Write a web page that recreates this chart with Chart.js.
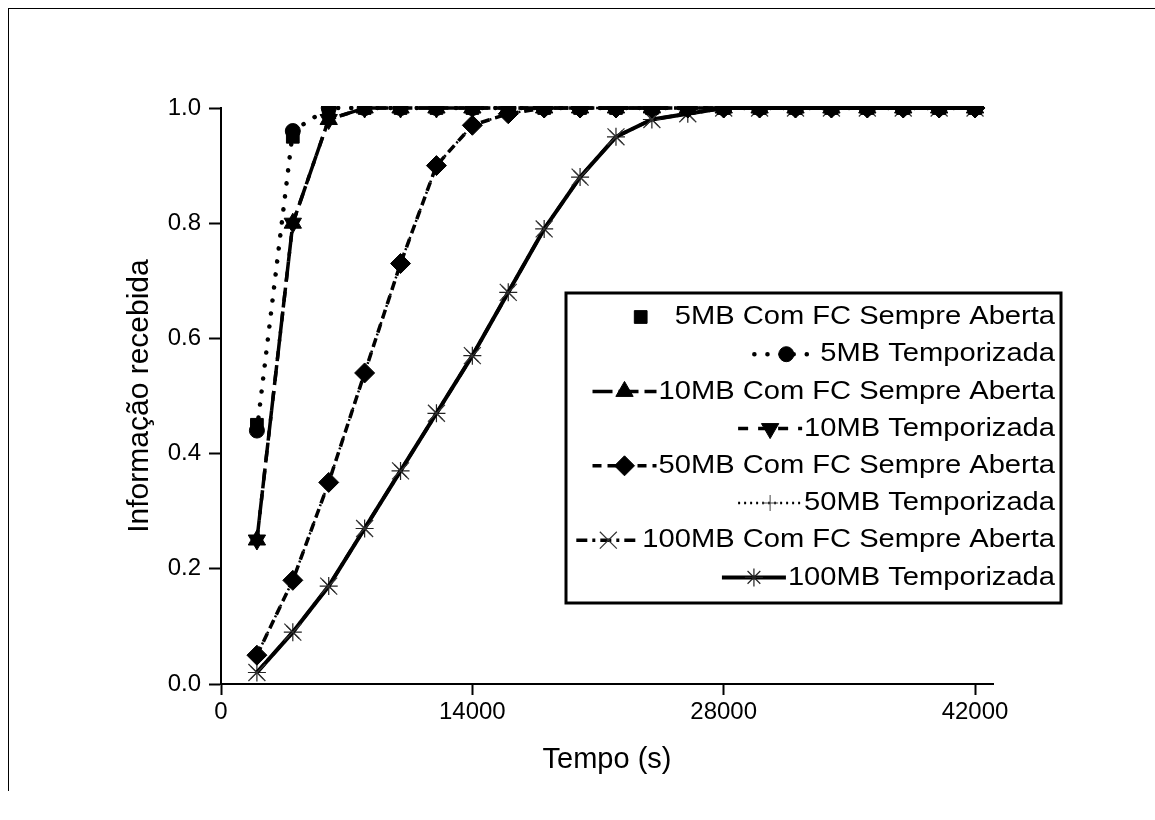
<!DOCTYPE html>
<html>
<head>
<meta charset="utf-8">
<script src="https://cdn.jsdelivr.net/npm/chart.js"></script>
<style>
  body { margin: 0; background: #fff; }
  #wrap { position: relative; width: 1155px; height: 820px; }
  #frame { position: absolute; left: 8px; top: 8px; width: 1147px; height: 782px;
           border-left: 1px solid #000; border-top: 1px solid #000; pointer-events: none; }
</style>
</head>
<body>
<div id="wrap">
  <canvas id="chart" width="1155" height="820"></canvas>
  <div id="frame"></div>
</div>
<script>
// time axis (s)
const times = [2000, 4000, 6000, 8000, 10000, 12000, 14000, 16000, 18000, 20000, 22000,
  24000, 26000, 28000, 30000, 32000, 34000, 36000, 38000, 40000, 42000];
const xTicks = [0, 14000, 28000, 42000];

// fraction of information received
const mb5Aberta = [0.45, 0.95, 1, 1, 1, 1, 1, 1, 1, 1, 1, 1, 1, 1, 1, 1, 1, 1, 1, 1, 1];
const mb5Temp = [0.44, 0.96, 1, 1, 1, 1, 1, 1, 1, 1, 1, 1, 1, 1, 1, 1, 1, 1, 1, 1, 1];
const mb10Aberta = [0.25, 0.80, 0.98, 1, 1, 1, 1, 1, 1, 1, 1, 1, 1, 1, 1, 1, 1, 1, 1, 1, 1];
const mb10Temp = [0.25, 0.80, 0.98, 1, 1, 1, 1, 1, 1, 1, 1, 1, 1, 1, 1, 1, 1, 1, 1, 1, 1];
const mb50Aberta = [0.05, 0.18, 0.35, 0.54, 0.73, 0.90, 0.97, 0.99, 1, 1, 1, 1, 1, 1, 1, 1, 1, 1, 1, 1, 1];
const mb50Temp = [0.05, 0.18, 0.35, 0.54, 0.73, 0.90, 0.97, 0.99, 1, 1, 1, 1, 1, 1, 1, 1, 1, 1, 1, 1, 1];
const mb100Aberta = [0.02, 0.09, 0.17, 0.27, 0.37, 0.47, 0.57, 0.68, 0.79, 0.88, 0.95, 0.98, 0.99, 1, 1, 1, 1, 1, 1, 1, 1];
const mb100Temp = [0.02, 0.09, 0.17, 0.27, 0.37, 0.47, 0.57, 0.68, 0.79, 0.88, 0.95, 0.98, 0.99, 1, 1, 1, 1, 1, 1, 1, 1];

const seriesLabels = [
  '5MB Com FC Sempre Aberta',
  '5MB Temporizada',
  '10MB Com FC Sempre Aberta',
  '10MB Temporizada',
  '50MB Com FC Sempre Aberta',
  '50MB Temporizada',
  '100MB Com FC Sempre Aberta',
  '100MB Temporizada'
];

const pts = arr => arr.map((v, i) => ({ x: times[i], y: v }));
const clipBox = { left: 12, top: 2, right: 12, bottom: 12 };

function series(label, values, style) {
  return Object.assign({
    label: label,
    data: pts(values),
    borderColor: '#000',
    backgroundColor: '#000',
    pointBackgroundColor: '#000',
    pointBorderColor: '#000',
    pointBorderWidth: 1,
    borderWidth: 3.5,
    tension: 0,
    clip: clipBox
  }, style);
}

const datasets = [
  series(seriesLabels[0], mb5Aberta, { showLine: false, pointStyle: 'rect', pointRadius: 9 }),
  series(seriesLabels[1], mb5Temp, { borderDash: [0.1, 13], borderWidth: 4.5, borderCapStyle: 'round',
    pointStyle: 'circle', pointRadius: 7.5 }),
  series(seriesLabels[2], mb10Aberta, { borderDash: [20, 6], pointStyle: 'triangle', pointRadius: 10 }),
  series(seriesLabels[3], mb10Temp, { borderDash: [10, 10], pointStyle: 'triangle', pointRotation: 180,
    pointRadius: 10 }),
  series(seriesLabels[4], mb50Aberta, { borderDash: [9, 6], pointStyle: 'rectRot', pointRadius: 10 }),
  series(seriesLabels[5], mb50Temp, { borderDash: [2, 4], borderWidth: 2.5, pointStyle: 'cross',
    pointRadius: 8, pointBorderColor: '#444' }),
  series(seriesLabels[6], mb100Aberta, { borderDash: [11, 5, 3, 5], pointStyle: 'crossRot', pointRadius: 12,
    pointBorderColor: '#333', pointBorderWidth: 1.2 }),
  series(seriesLabels[7], mb100Temp, { borderWidth: 4, pointStyle: 'star', pointRadius: 9,
    pointBorderColor: '#222', pointBorderWidth: 1.2 })
];

const sansFamily = '"Liberation Sans", Arial, sans-serif';

// legend drawn like the original: right aligned text, line sample + symbol before it
const legendBox = {
  id: 'legendBox',
  afterDraw(chart) {
    const ctx = chart.ctx;
    const stretch = 1.12;
    ctx.save();
    ctx.lineWidth = 3;
    ctx.strokeStyle = '#000';
    ctx.strokeRect(566, 293, 495, 310);
    ctx.font = '26px ' + sansFamily;
    ctx.textBaseline = 'middle';
    chart.data.datasets.forEach((ds, i) => {
      const y = 317 + i * 37.2;
      const textW = ctx.measureText(ds.label).width * stretch;
      const tx = 1055 - textW;
      const x0 = tx - 66, x1 = tx - 2, mx = (x0 + x1) / 2;

      if (ds.showLine !== false) {
        ctx.save();
        ctx.strokeStyle = ds.borderColor;
        ctx.lineWidth = ds.borderWidth;
        ctx.lineCap = ds.borderCapStyle || 'butt';
        ctx.setLineDash(ds.borderDash || []);
        ctx.beginPath();
        ctx.moveTo(x0, y);
        ctx.lineTo(x1, y);
        ctx.stroke();
        ctx.restore();
      }

      ctx.save();
      ctx.fillStyle = ds.pointBackgroundColor;
      ctx.strokeStyle = ds.pointBorderColor;
      ctx.lineWidth = ds.pointBorderWidth;
      Chart.helpers.drawPoint(ctx, {
        pointStyle: ds.pointStyle,
        rotation: ds.pointRotation || 0,
        radius: ds.pointRadius,
        borderWidth: ds.pointBorderWidth
      }, mx, y);
      ctx.restore();

      ctx.save();
      ctx.fillStyle = '#000';
      ctx.translate(tx, y);
      ctx.scale(stretch, 1);
      ctx.fillText(ds.label, 0, 0);
      ctx.restore();
    });
    ctx.restore();
  }
};

new Chart(document.getElementById('chart'), {
  type: 'line',
  data: { datasets: datasets },
  options: {
    responsive: false,
    animation: false,
    devicePixelRatio: 1,
    layout: { padding: { top: 108, right: 162, left: 0, bottom: 0 } },
    plugins: { legend: { display: false }, tooltip: { enabled: false } },
    scales: {
      x: {
        type: 'linear',
        min: 0,
        max: 43000,
        afterFit(scale) { scale.height = 136; },
        afterBuildTicks(scale) { scale.ticks = xTicks.map(v => ({ value: v })); },
        border: { display: true, color: '#000', width: 2 },
        grid: { drawOnChartArea: false, drawTicks: true, tickLength: 11, tickWidth: 2, tickColor: '#000' },
        ticks: {
          color: '#000',
          padding: 3,
          maxRotation: 0,
          autoSkip: false,
          font: { family: sansFamily, size: 24 },
          callback: v => String(v)
        },
        title: {
          display: true,
          text: 'Tempo (s)',
          color: '#000',
          font: { family: sansFamily, size: 29 },
          padding: { top: 0, bottom: 43 }
        }
      },
      y: {
        min: 0,
        max: 1,
        afterFit(scale) { scale.width = 221; },
        border: { display: true, color: '#000', width: 2 },
        grid: { drawOnChartArea: false, drawTicks: true, tickLength: 12, tickWidth: 2, tickColor: '#000' },
        ticks: {
          stepSize: 0.2,
          color: '#000',
          padding: 8,
          font: { family: sansFamily, size: 24 },
          callback: v => Number(v).toFixed(1)
        },
        title: {
          display: true,
          text: 'Informação recebida',
          color: '#000',
          font: { family: sansFamily, size: 30 },
          padding: { top: 122, bottom: 0 }
        }
      }
    }
  },
  plugins: [legendBox]
});
</script>
</body>
</html>
